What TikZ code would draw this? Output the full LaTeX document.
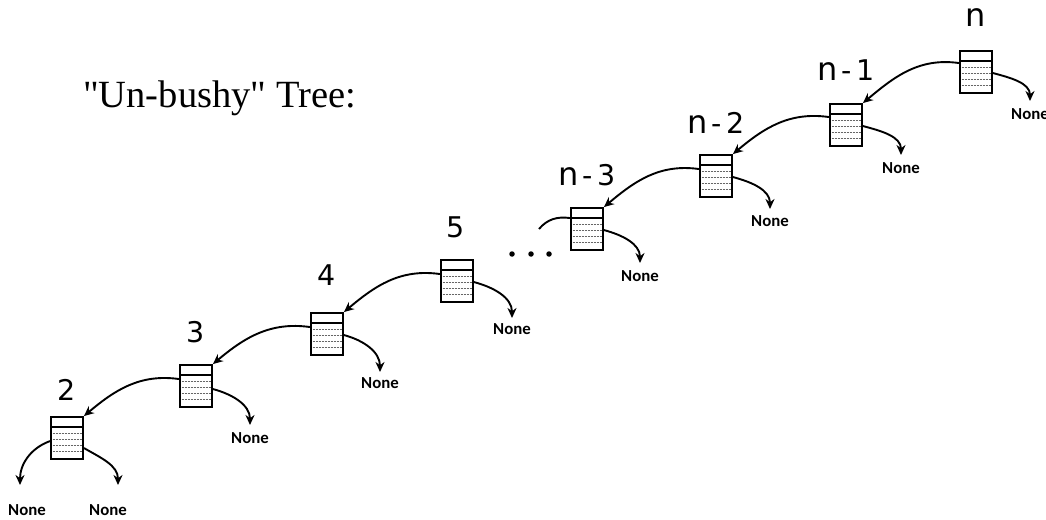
\documentclass[tikz,border=0pt]{standalone}
\usepackage{fontspec}
\setmainfont{Liberation Serif}
\newfontfamily\labfont{DejaVu Sans}
\newfontfamily\nonefont{Carlito}
\usetikzlibrary{arrows.meta}
\newcommand{\sq}{\XeTeXglyph\XeTeXcharglyph"22\relax}
\newcommand{\bign}{{\fontsize{32}{32}\selectfont n}}
\begin{document}
\begin{tikzpicture}[x=1pt,y=-1pt,
  boxnode/.style={draw, line width=1.9pt, minimum width=32pt, minimum height=42pt, inner sep=0pt,
    path picture={
      \draw[line width=1.7pt] ([yshift=-10pt]path picture bounding box.north west) -- ([yshift=-10pt]path picture bounding box.north east);
      \foreach \k in {16,22,28,34}
        \draw[densely dotted, line width=0.5pt, black!60] ([xshift=1.5pt,yshift=-\k pt]path picture bounding box.north west) -- ([xshift=-1.5pt,yshift=-\k pt]path picture bounding box.north east);
    }},
  link/.style={line width=1.9pt, -{Stealth[length=10pt,width=9pt]}},
  stub/.style={line width=1.9pt},
  numlbl/.style={font=\labfont\fontsize{28.5}{28}\selectfont, anchor=base, inner sep=0pt},
  nonelbl/.style={font=\nonefont\bfseries\fontsize{16.8}{17}\selectfont, anchor=north, inner sep=0pt},
  titlelbl/.style={font=\fontsize{38.5}{40}\selectfont, anchor=base west, inner sep=0pt},
  dotnode/.style={circle, fill, inner sep=0pt, minimum size=5.5pt}]
\useasboundingbox (0,0) rectangle (1046,519);

\node[titlelbl] (title) at (83,107) {\sq Un-bushy\sq{} Tree:};

% boxes
\node[boxnode] (b2) at (67,438) {};
\node[boxnode] (b3) at (196,386) {};
\node[boxnode] (b4) at (327,334) {};
\node[boxnode] (b5) at (457,281) {};
\node[boxnode] (b6) at (587,229) {};
\node[boxnode] (b7) at (716,176) {};
\node[boxnode] (b8) at (846,125) {};
\node[boxnode] (b9) at (976,72) {};

% number labels
\node[numlbl] (l2) at (67,400) {2};
\node[numlbl] (l3) at (196,342) {3};
\node[numlbl] (l4) at (327,285) {4};
\node[numlbl] (l5) at (456,237) {5};
\node[numlbl] (l6) at (587,185) {\bign\kern4pt-\kern4pt3};
\node[numlbl] (l7) at (716,133) {\bign\kern4pt-\kern4pt2};
\node[numlbl] (l8) at (846,80) {\bign\kern4pt-\kern4pt1};
\node[numlbl] (l9) at (976,27) {\bign};

% None labels
\node[nonelbl] (n2a) at (27,504) {None};
\node[nonelbl] (n2b) at (108,504) {None};
\node[nonelbl] (n3) at (250,432) {None};
\node[nonelbl] (n4) at (380,377) {None};
\node[nonelbl] (n5) at (512,323) {None};
\node[nonelbl] (n6) at (640,270) {None};
\node[nonelbl] (n7) at (770,215) {None};
\node[nonelbl] (n8) at (901,162) {None};
\node[nonelbl] (n9) at (1030,108) {None};

% dots
\node[dotnode] (d1) at (512,254) {};
\node[dotnode] (d2) at (531,254) {};
\node[dotnode] (d3) at (549,254) {};

% chain links
\draw[link] ([yshift=-13pt]b9.north west) to[out=172,in=40] (b8.north east);
\draw[link] ([yshift=-14pt]b8.north west) to[out=172,in=40] (b7.north east);
\draw[link] ([yshift=-15pt]b7.north west) to[out=172,in=40] (b6.north east);
\draw[link] ([yshift=-15pt]b5.north west) to[out=172,in=40] (b4.north east);
\draw[link] ([yshift=-15pt]b4.north west) to[out=172,in=40] (b3.north east);
\draw[link] ([yshift=-15pt]b3.north west) to[out=172,in=40] (b2.north east);

% stub to the dots
\coordinate (stubend) at (539,229);
\draw[stub] ([yshift=-11pt]b6.north west) to[out=172,in=50] (stubend);

% None links
\draw[link] ([yshift=-23pt]b9.north east) to[out=-15,in=90] ([yshift=7pt]n9.north);
\draw[link] ([yshift=-23pt]b8.north east) to[out=-15,in=90] ([yshift=7pt]n8.north);
\draw[link] ([yshift=-23pt]b7.north east) to[out=-15,in=90] ([yshift=6pt]n7.north);
\draw[link] ([yshift=-23pt]b6.north east) to[out=-15,in=90] ([yshift=7pt]n6.north);
\draw[link] ([yshift=-23pt]b5.north east) to[out=-15,in=90] ([yshift=5pt]n5.north);
\draw[link] ([yshift=-23pt]b4.north east) to[out=-15,in=90] ([yshift=5pt]n4.north);
\draw[link] ([yshift=-25pt]b3.north east) to[out=-15,in=90] ([yshift=7pt]n3.north);
\draw[link] ([yshift=-25pt]b2.north west) to[out=200,in=90] ([xshift=-7pt,yshift=19pt]n2a.north);
\draw[link] ([yshift=-32pt]b2.north east) to[out=-30,in=90] ([xshift=10pt,yshift=19pt]n2b.north);
\end{tikzpicture}
\end{document}
